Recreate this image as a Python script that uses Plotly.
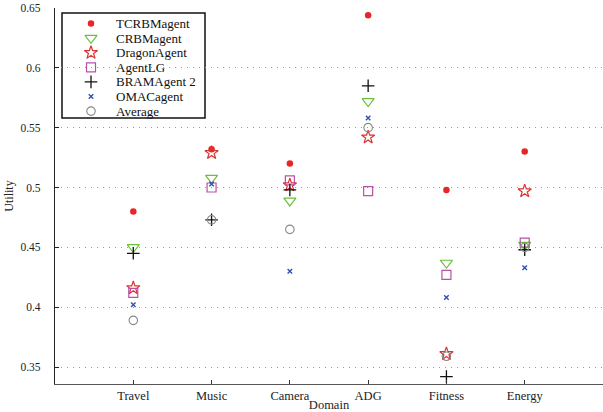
import plotly.graph_objects as go

domains = ["Travel", "Music", "Camera", "ADG", "Fitness", "Energy"]

tcrb   = [0.480, 0.532, 0.520, 0.644, 0.498, 0.530]
crb    = [0.450, 0.508, 0.489, 0.572, 0.437, 0.452]
dragon = [0.416, 0.529, 0.502, 0.542, 0.361, 0.497]
lg     = [0.412, 0.500, 0.506, 0.497, 0.427, 0.454]
brama  = [0.445, 0.473, 0.498, 0.585, 0.342, 0.448]
oma    = [0.402, 0.503, 0.430, 0.558, 0.408, 0.433]
avg    = [0.389, 0.473, 0.465, 0.550, 0.359, 0.450]

names = ["TCRBMagent", "CRBMagent", "DragonAgent", "AgentLG",
         "BRAMAgent 2", "OMACagent", "Average"]
values = [tcrb, crb, dragon, lg, brama, oma, avg]
styles = [
    dict(symbol="circle", size=6.5, color="#e8262a", line=dict(width=0)),
    dict(symbol="triangle-down-open", size=10.5, color="#6cc03c", line=dict(width=1.2)),
    dict(symbol="star-open", size=10, color="#dd3333", line=dict(width=1.2)),
    dict(symbol="square-open", size=9, color="#b850a8", line=dict(width=1.2)),
    dict(symbol="cross-thin-open", size=9, color="#111111", line=dict(width=1.3)),
    dict(symbol="x-thin-open", size=4.5, color="#3050b0", line=dict(width=1.4)),
    dict(symbol="circle-open", size=8.5, color="#888888", line=dict(width=1.1)),
]

FONT = "Liberation Serif"
fig = go.Figure()
for name, vals, st in zip(names, values, styles):
    fig.add_trace(go.Scatter(x=domains, y=vals, mode="markers", name=name,
                             marker=st, showlegend=False, cliponaxis=False))

# custom legend drawn in a pixel-like overlay coordinate system
LEG_X0, LEG_X1, LEG_Y0, LEG_Y1 = 62, 205, 13, 118
LEG_TOP, LEG_STEP, MARK_X, TEXT_X = 23.5, 14.6, 91, 114
for i, (name, st) in enumerate(zip(names, styles)):
    yy = LEG_TOP + i * LEG_STEP
    fig.add_trace(go.Scatter(x=[MARK_X], y=[yy], mode="markers", marker=st,
                             xaxis="x2", yaxis="y2", showlegend=False,
                             hoverinfo="skip"))
    fig.add_annotation(x=TEXT_X, y=yy, xref="x2", yref="y2", text=name,
                       showarrow=False, xanchor="left", yanchor="middle",
                       font=dict(family=FONT, size=13, color="#111111"))
fig.add_shape(type="rect", xref="x2", yref="y2", x0=LEG_X0, x1=LEG_X1,
              y0=LEG_Y0, y1=LEG_Y1, line=dict(color="#111111", width=1.5),
              fillcolor="white", layer="below")

fig.update_layout(
    width=603, height=412,
    margin=dict(l=55, r=0, t=8, b=28),
    paper_bgcolor="white", plot_bgcolor="white",
    font=dict(family=FONT, size=12, color="#222222"),
    xaxis=dict(range=[-1, 6], tickvals=domains, showgrid=False, automargin=False,
               ticks="inside", ticklen=4, tickcolor="#333333",
               showline=True, linecolor="#555555", linewidth=1.2,
               tickfont=dict(size=12.5),
               title=dict(text="Domain", font=dict(size=12.5), standoff=1),
               zeroline=False),
    yaxis=dict(range=[0.3358, 0.65], tickvals=[0.35, 0.4, 0.45, 0.5, 0.55, 0.6, 0.65],
               ticktext=["0.35", "0.4", "0.45", "0.5", "0.55", "0.6", "0.65"],
               showgrid=True, gridcolor="#999999", griddash="1px,5px", gridwidth=1,
               automargin=False,
               ticks="inside", ticklen=4, tickcolor="#222222",
               showline=True, linecolor="#222222", linewidth=1.2,
               tickfont=dict(size=11.5), ticklabelstandoff=11,
               title=dict(text="Utility", font=dict(size=12), standoff=4),
               zeroline=False),
    xaxis2=dict(range=[55, 603], overlaying="x", visible=False, fixedrange=True),
    yaxis2=dict(range=[384, 8], overlaying="y", visible=False, fixedrange=True),
)

fig.write_html("out.html", config={"displayModeBar": False},
               post_script="document.body.style.margin='0px';")
